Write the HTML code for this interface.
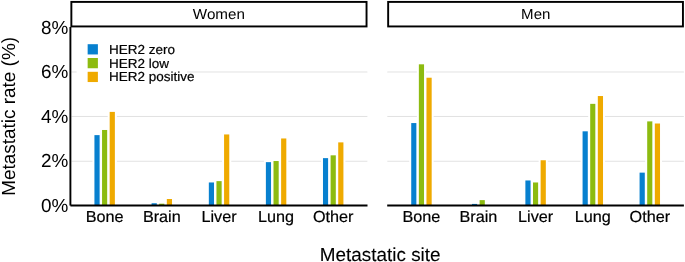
<!DOCTYPE html>
<html><head><meta charset="utf-8"><title>Metastatic rate by site</title>
<style>
html,body{margin:0;padding:0;background:#fff;}
body{width:685px;height:262px;overflow:hidden;font-family:"Liberation Sans",sans-serif;}
svg{display:block;will-change:transform;}
svg text{font-family:"Liberation Sans",sans-serif;fill:#000;text-rendering:geometricPrecision;}
svg text.b{stroke:#000;stroke-width:0.2px;}
svg text.b1{stroke:#000;stroke-width:0.1px;}
</style></head><body>
<svg width="685" height="262" viewBox="0 0 685 262">
<rect width="685" height="262" fill="#fff"/>
<!-- gridlines -->
<line x1="71.5" x2="367.4" y1="161.25" y2="161.25" stroke="#d6d6d6" stroke-width="0.7"/>
<line x1="71.5" x2="367.4" y1="116.47" y2="116.47" stroke="#d6d6d6" stroke-width="0.7"/>
<line x1="71.5" x2="367.4" y1="72.00" y2="72.00" stroke="#d6d6d6" stroke-width="0.7"/>
<line x1="387.3" x2="683.9" y1="161.25" y2="161.25" stroke="#d6d6d6" stroke-width="0.7"/>
<line x1="387.3" x2="683.9" y1="116.47" y2="116.47" stroke="#d6d6d6" stroke-width="0.7"/>
<line x1="387.3" x2="683.9" y1="72.00" y2="72.00" stroke="#d6d6d6" stroke-width="0.7"/>
<!-- legend background -->
<rect x="76.6" y="38" width="110.4" height="50" fill="#fff"/>
<!-- bars -->
<rect x="92.43" y="133.12" width="9.20" height="72.43" fill="#fff"/>
<rect x="94.43" y="135.12" width="5.20" height="70.43" fill="#0780cf"/>
<rect x="100.05" y="127.98" width="9.20" height="77.57" fill="#fff"/>
<rect x="102.05" y="129.98" width="5.20" height="75.57" fill="#8dbb10"/>
<rect x="107.67" y="109.89" width="9.20" height="95.66" fill="#fff"/>
<rect x="109.67" y="111.89" width="5.20" height="93.66" fill="#efaa00"/>
<rect x="149.58" y="201.24" width="9.20" height="4.31" fill="#fff"/>
<rect x="151.58" y="203.24" width="5.20" height="2.31" fill="#0780cf"/>
<rect x="157.20" y="201.69" width="9.20" height="3.86" fill="#fff"/>
<rect x="159.20" y="203.69" width="5.20" height="1.86" fill="#8dbb10"/>
<rect x="164.82" y="197.00" width="9.20" height="8.55" fill="#fff"/>
<rect x="166.82" y="199.00" width="5.20" height="6.55" fill="#efaa00"/>
<rect x="206.83" y="180.47" width="9.20" height="25.08" fill="#fff"/>
<rect x="208.83" y="182.47" width="5.20" height="23.08" fill="#0780cf"/>
<rect x="214.45" y="179.13" width="9.20" height="26.42" fill="#fff"/>
<rect x="216.45" y="181.13" width="5.20" height="24.42" fill="#8dbb10"/>
<rect x="222.07" y="132.45" width="9.20" height="73.10" fill="#fff"/>
<rect x="224.07" y="134.45" width="5.20" height="71.10" fill="#efaa00"/>
<rect x="263.88" y="160.15" width="9.20" height="45.40" fill="#fff"/>
<rect x="265.88" y="162.15" width="5.20" height="43.40" fill="#0780cf"/>
<rect x="271.50" y="159.03" width="9.20" height="46.52" fill="#fff"/>
<rect x="273.50" y="161.03" width="5.20" height="44.52" fill="#8dbb10"/>
<rect x="279.12" y="136.47" width="9.20" height="69.08" fill="#fff"/>
<rect x="281.12" y="138.47" width="5.20" height="67.08" fill="#efaa00"/>
<rect x="320.98" y="156.13" width="9.20" height="49.42" fill="#fff"/>
<rect x="322.98" y="158.13" width="5.20" height="47.42" fill="#0780cf"/>
<rect x="328.60" y="153.33" width="9.20" height="52.22" fill="#fff"/>
<rect x="330.60" y="155.33" width="5.20" height="50.22" fill="#8dbb10"/>
<rect x="336.22" y="140.38" width="9.20" height="65.17" fill="#fff"/>
<rect x="338.22" y="142.38" width="5.20" height="63.17" fill="#efaa00"/>
<rect x="409.23" y="121.06" width="9.20" height="84.49" fill="#fff"/>
<rect x="411.23" y="123.06" width="5.20" height="82.49" fill="#0780cf"/>
<rect x="416.85" y="62.32" width="9.20" height="143.23" fill="#fff"/>
<rect x="418.85" y="64.32" width="5.20" height="141.23" fill="#8dbb10"/>
<rect x="424.47" y="75.72" width="9.20" height="129.83" fill="#fff"/>
<rect x="426.47" y="77.72" width="5.20" height="127.83" fill="#efaa00"/>
<rect x="469.99" y="201.91" width="9.20" height="3.64" fill="#fff"/>
<rect x="471.99" y="203.91" width="5.20" height="1.64" fill="#0780cf"/>
<rect x="477.61" y="198.12" width="9.20" height="7.43" fill="#fff"/>
<rect x="479.61" y="200.12" width="5.20" height="5.43" fill="#8dbb10"/>
<rect x="523.38" y="178.46" width="9.20" height="27.09" fill="#fff"/>
<rect x="525.38" y="180.46" width="5.20" height="25.09" fill="#0780cf"/>
<rect x="531.00" y="180.47" width="9.20" height="25.08" fill="#fff"/>
<rect x="533.00" y="182.47" width="5.20" height="23.08" fill="#8dbb10"/>
<rect x="538.62" y="158.25" width="9.20" height="47.30" fill="#fff"/>
<rect x="540.62" y="160.25" width="5.20" height="45.30" fill="#efaa00"/>
<rect x="580.58" y="129.32" width="9.20" height="76.23" fill="#fff"/>
<rect x="582.58" y="131.32" width="5.20" height="74.23" fill="#0780cf"/>
<rect x="588.20" y="101.85" width="9.20" height="103.70" fill="#fff"/>
<rect x="590.20" y="103.85" width="5.20" height="101.70" fill="#8dbb10"/>
<rect x="595.82" y="94.04" width="9.20" height="111.51" fill="#fff"/>
<rect x="597.82" y="96.04" width="5.20" height="109.51" fill="#efaa00"/>
<rect x="637.58" y="170.64" width="9.20" height="34.91" fill="#fff"/>
<rect x="639.58" y="172.64" width="5.20" height="32.91" fill="#0780cf"/>
<rect x="645.20" y="119.39" width="9.20" height="86.16" fill="#fff"/>
<rect x="647.20" y="121.39" width="5.20" height="84.16" fill="#8dbb10"/>
<rect x="652.82" y="121.51" width="9.20" height="84.04" fill="#fff"/>
<rect x="654.82" y="123.51" width="5.20" height="82.04" fill="#efaa00"/>
<!-- legend -->
<rect x="87.65" y="44.20" width="10.25" height="10.25" fill="#0780cf"/>
<rect x="87.65" y="58.00" width="10.25" height="10.25" fill="#8dbb10"/>
<rect x="87.65" y="71.80" width="10.25" height="10.25" fill="#efaa00"/>
<text class="b" transform="translate(108.90,54.00) scale(1.0305,1)" font-size="13.1">HER2 zero</text>
<text class="b" transform="translate(108.90,67.60) scale(1.0305,1)" font-size="13.1">HER2 low</text>
<text class="b" transform="translate(108.90,81.20) scale(1.0305,1)" font-size="13.1">HER2 positive</text>
<!-- axes -->
<line x1="70.4" x2="70.4" y1="27" y2="205.55" stroke="#000" stroke-width="1.9"/>
<line x1="70.4" x2="367.5" y1="205.55" y2="205.55" stroke="#000" stroke-width="1.9"/>
<line x1="387.2" x2="683.9" y1="205.55" y2="205.55" stroke="#000" stroke-width="1.9"/>
<!-- strips -->
<rect x="71.36" y="1.91" width="295.18" height="24.53" fill="#fff" stroke="#000" stroke-width="1.92"/>
<rect x="388.16" y="1.91" width="294.78" height="24.53" fill="#fff" stroke="#000" stroke-width="1.92"/>
<text transform="translate(218.85,19.00) scale(1.045,1)" font-size="14.55" text-anchor="middle" fill="#1a1a1a">Women</text>
<text transform="translate(535.75,19.00) scale(1.035,1)" font-size="14.55" text-anchor="middle" fill="#1a1a1a">Men</text>
<!-- tick labels -->
<text transform="translate(68.40,212.00)" font-size="18.9" text-anchor="end">0%</text>
<text transform="translate(68.40,167.40)" font-size="18.9" text-anchor="end">2%</text>
<text transform="translate(68.40,122.85)" font-size="18.9" text-anchor="end">4%</text>
<text transform="translate(68.40,78.25)" font-size="18.9" text-anchor="end">6%</text>
<text transform="translate(68.40,33.80)" font-size="18.9" text-anchor="end">8%</text>
<text class="b" transform="translate(104.65,222.00) scale(1.0125,1)" font-size="16.0" text-anchor="middle">Bone</text>
<text class="b" transform="translate(161.80,222.00) scale(1.0125,1)" font-size="16.0" text-anchor="middle">Brain</text>
<text class="b" transform="translate(219.05,222.00) scale(1.0125,1)" font-size="16.0" text-anchor="middle">Liver</text>
<text class="b" transform="translate(276.10,222.00) scale(1.0125,1)" font-size="16.0" text-anchor="middle">Lung</text>
<text class="b" transform="translate(333.20,222.00) scale(1.0125,1)" font-size="16.0" text-anchor="middle">Other</text>
<text class="b" transform="translate(421.45,222.00) scale(1.0125,1)" font-size="16.0" text-anchor="middle">Bone</text>
<text class="b" transform="translate(478.40,222.00) scale(1.0125,1)" font-size="16.0" text-anchor="middle">Brain</text>
<text class="b" transform="translate(535.60,222.00) scale(1.0125,1)" font-size="16.0" text-anchor="middle">Liver</text>
<text class="b" transform="translate(592.80,222.00) scale(1.0125,1)" font-size="16.0" text-anchor="middle">Lung</text>
<text class="b" transform="translate(649.80,222.00) scale(1.0125,1)" font-size="16.0" text-anchor="middle">Other</text>
<!-- titles -->
<text class="b1" transform="translate(380.20,261.00)" font-size="18.9" text-anchor="middle">Metastatic site</text>
<text transform="translate(15.20,116.40) rotate(-90)" font-size="18.95" text-anchor="middle">Metastatic rate (%)</text>
</svg>
</body></html>
